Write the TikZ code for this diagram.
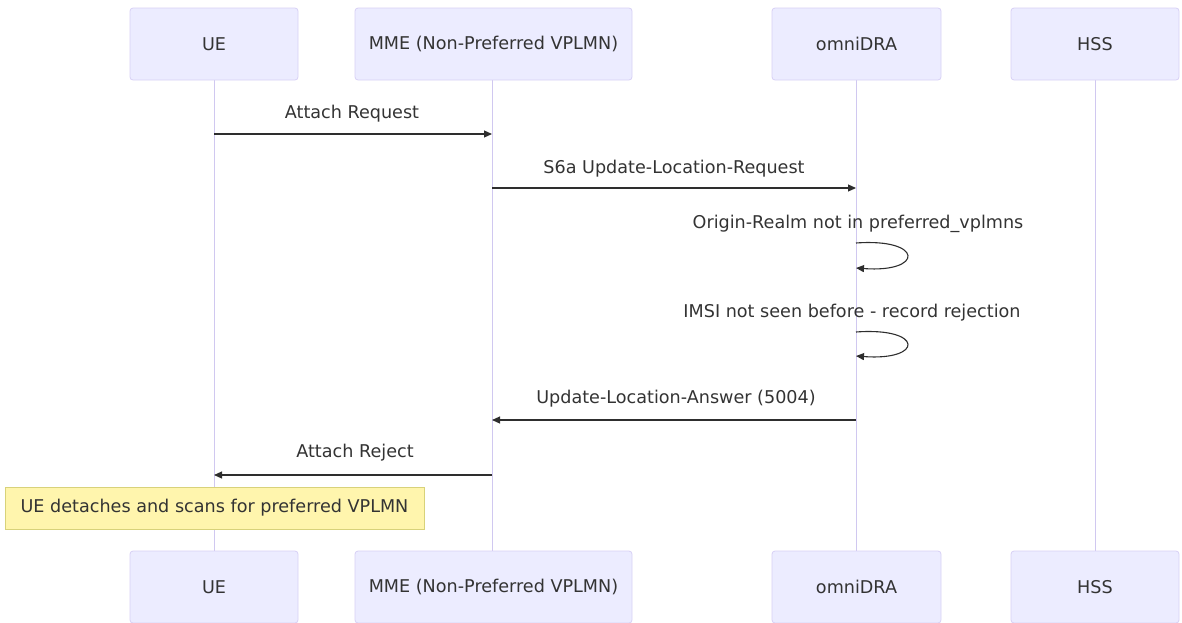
\documentclass[tikz,border=0pt]{standalone}
\usepackage{fontspec}
\setmainfont{DejaVu Sans}
\usetikzlibrary{arrows.meta}
\definecolor{actfill}{HTML}{ECECFF}
\definecolor{actdraw}{HTML}{D8D0F5}
\definecolor{lifec}{HTML}{D0C8F0}
\definecolor{txt}{HTML}{333333}
\definecolor{notefill}{HTML}{FFF5AD}
\definecolor{notedraw}{HTML}{D8D27A}
\tikzset{
  x=1pt, y=-1pt,
  actor/.style={draw=actdraw, fill=actfill, rounded corners=3pt, line width=0.8pt, text=txt, font=\fontsize{17.6}{20}\selectfont},
  life/.style={draw=lifec, line width=1pt},
  msg/.style={draw=txt!90!black, line width=1.1pt, -{Triangle[length=8pt,width=7pt]}},
  lbl/.style={text=txt, font=\fontsize{17.6}{20}\selectfont, inner sep=0pt},
  notebox/.style={draw=notedraw, fill=notefill, line width=0.8pt, text=txt, font=\fontsize{17.6}{20}\selectfont, inner sep=0pt}
}
\begin{document}
\begin{tikzpicture}
\useasboundingbox (0,0) rectangle (1182,622);
% lifelines
\coordinate (ueT) at (214,80); \coordinate (ueB) at (214,551);
\coordinate (mmeT) at (492,80); \coordinate (mmeB) at (492,551);
\coordinate (draT) at (856,80); \coordinate (draB) at (856,551);
\coordinate (hssT) at (1095,80); \coordinate (hssB) at (1095,551);
\draw[life] (ueT) -- (ueB);
\draw[life] (mmeT) -- (mmeB);
\draw[life] (draT) -- (draB);
\draw[life] (hssT) -- (hssB);
% actors top
\node[actor, minimum width=168pt, minimum height=72pt] (ue1) at (214,44) {UE};
\node[actor, minimum width=277pt, minimum height=72pt] (mme1) at (493.5,44) {MME (Non-Preferred VPLMN)};
\node[actor, minimum width=169pt, minimum height=72pt] (dra1) at (856.5,44) {omniDRA};
\node[actor, minimum width=168pt, minimum height=72pt] (hss1) at (1095,44) {HSS};
% actors bottom
\node[actor, minimum width=168pt, minimum height=72pt] (ue2) at (214,587) {UE};
\node[actor, minimum width=277pt, minimum height=72pt] (mme2) at (493.5,587) {MME (Non-Preferred VPLMN)};
\node[actor, minimum width=169pt, minimum height=72pt] (dra2) at (856.5,587) {omniDRA};
\node[actor, minimum width=168pt, minimum height=72pt] (hss2) at (1095,587) {HSS};
% messages
\coordinate (m1a) at (214,134); \coordinate (m1b) at (492,134);
\draw[msg] (m1a) -- (m1b);
\node[lbl] (l1) at (352,114) {Attach Request};
\coordinate (m2a) at (492,188); \coordinate (m2b) at (856,188);
\draw[msg] (m2a) -- (m2b);
\node[lbl] (l2) at (674,169) {S6a Update-Location-Request};
\coordinate (s1a) at (856,243); \coordinate (s1b) at (856,268);
\draw[msg] (s1a) .. controls (924,238) and (924,273) .. (s1b);
\node[lbl] (l3) at (858,224) {Origin-Realm not in preferred\_vplmns};
\coordinate (s2a) at (856,332); \coordinate (s2b) at (856,356);
\draw[msg] (s2a) .. controls (924,327) and (924,361) .. (s2b);
\node[lbl] (l4) at (852,313) {IMSI not seen before - record rejection};
\coordinate (m3a) at (856,420); \coordinate (m3b) at (492,420);
\draw[msg] (m3a) -- (m3b);
\node[lbl] (l5) at (676,399) {Update-Location-Answer (5004)};
\coordinate (m4a) at (492,475); \coordinate (m4b) at (214,475);
\draw[msg] (m4a) -- (m4b);
\node[lbl] (l6) at (355,453) {Attach Reject};
% note
\node[notebox, minimum width=419pt, minimum height=42pt] (note) at (214.5,508) {UE detaches and scans for preferred VPLMN};
\end{tikzpicture}
\end{document}
